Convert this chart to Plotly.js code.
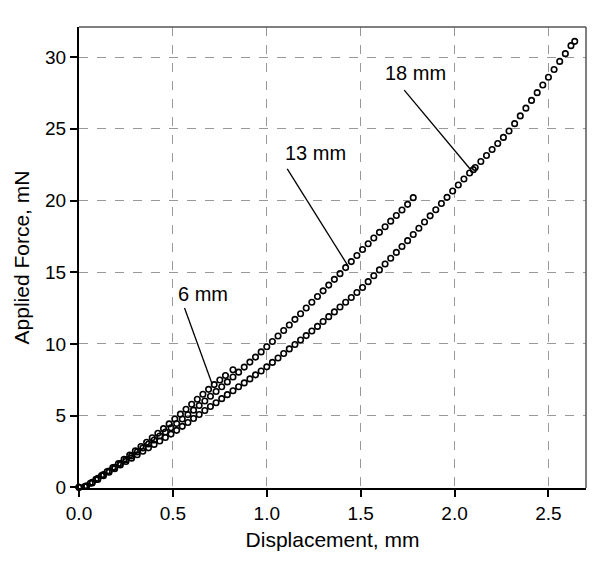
<!DOCTYPE html>
<html>
<head>
<meta charset="utf-8">
<script src="https://cdn.plot.ly/plotly-3.0.1.min.js"></script>
<style>html,body{margin:0;padding:0;background:#fff;}#chart{width:602px;height:566px;}</style>
</head>
<body>
<div id="chart"></div>
<script>
// 6 mm series
var x6 = [0.00,0.03,0.06,0.09,0.12,0.15,0.18,0.21,0.24,0.27,0.30,0.33,0.36,0.39,0.42,0.45,0.48,0.51,0.54,0.57,0.60,0.63,0.66,0.69,0.72,0.75,0.78,0.82];
var y6 = [0.00,0.05,0.28,0.55,0.82,1.10,1.38,1.66,1.95,2.24,2.54,2.84,3.14,3.45,3.77,4.09,4.42,4.76,5.10,5.44,5.79,6.14,6.49,6.83,7.16,7.48,7.80,8.20];
// 13 mm series
var x13 = [0.00,0.04,0.07,0.10,0.13,0.16,0.19,0.22,0.25,0.28,0.31,0.34,0.37,0.40,0.43,0.46,0.49,0.52,0.55,0.58,0.61,0.64,0.67,0.70,0.73,0.76,0.79,0.82,0.85,0.88,0.91,0.94,0.97,1.00,1.03,1.06,1.09,1.12,1.15,1.18,1.21,1.24,1.27,1.30,1.33,1.36,1.39,1.42,1.45,1.48,1.51,1.54,1.57,1.60,1.63,1.66,1.69,1.72,1.75,1.78];
var y13 = [0.00,0.10,0.35,0.62,0.88,1.14,1.40,1.66,1.92,2.19,2.46,2.74,3.02,3.30,3.58,3.86,4.15,4.45,4.76,5.07,5.38,5.70,6.02,6.35,6.68,7.01,7.35,7.69,8.03,8.38,8.73,9.08,9.44,9.80,10.17,10.55,10.93,11.32,11.71,12.10,12.50,12.90,13.30,13.70,14.10,14.50,14.90,15.32,15.74,16.16,16.58,16.98,17.38,17.78,18.17,18.56,18.95,19.34,19.73,20.20];
// 18 mm series
var x18 = [0.00,0.04,0.07,0.10,0.13,0.16,0.19,0.22,0.25,0.28,0.31,0.34,0.37,0.40,0.43,0.46,0.49,0.52,0.55,0.58,0.61,0.64,0.67,0.70,0.73,0.76,0.79,0.82,0.85,0.88,0.91,0.94,0.97,1.00,1.03,1.06,1.09,1.12,1.15,1.18,1.21,1.24,1.27,1.30,1.33,1.36,1.39,1.42,1.45,1.48,1.51,1.54,1.57,1.60,1.63,1.66,1.69,1.72,1.75,1.78,1.81,1.84,1.87,1.90,1.93,1.96,1.99,2.02,2.05,2.08,2.10,2.11,2.14,2.17,2.20,2.23,2.26,2.29,2.32,2.35,2.38,2.41,2.44,2.47,2.50,2.53,2.56,2.59,2.62,2.64];
var y18 = [0.00,0.05,0.30,0.55,0.80,1.05,1.30,1.55,1.80,2.03,2.27,2.51,2.75,2.99,3.23,3.47,3.71,3.97,4.25,4.52,4.80,5.08,5.35,5.63,5.90,6.18,6.46,6.73,7.01,7.28,7.56,7.84,8.11,8.40,8.71,9.02,9.33,9.65,9.96,10.27,10.58,10.90,11.22,11.56,11.90,12.23,12.57,12.90,13.24,13.58,13.93,14.34,14.75,15.16,15.57,15.97,16.38,16.79,17.20,17.63,18.06,18.50,18.93,19.36,19.79,20.22,20.66,21.08,21.50,21.92,22.15,22.30,22.72,23.14,23.56,23.98,24.40,24.85,25.36,25.90,26.44,26.98,27.52,28.06,28.60,29.14,29.70,30.24,30.80,31.10];

// labels and their leader lines (text position, line start, line end)
var labels = ["6 mm","13 mm","18 mm"];
var labelX = [0.66, 1.26, 1.79];
var labelY = [13.5, 23.3, 28.9];
var lineX0 = [0.562, 1.109, 1.732];
var lineY0 = [12.5, 22.2, 27.7];
var lineX1 = [0.710, 1.430, 2.083];
var lineY1 = [7.17, 15.5, 22.2];

var xTicks = [0,0.5,1,1.5,2,2.5];
var xTickText = ["0.0","0.5","1.0","1.5","2.0","2.5"];
var yTicks = [0,5,10,15,20,25,30];

var font = "Liberation Sans, Arial, Helvetica, sans-serif";
var mk = {symbol:"circle-open", size:5.5, color:"#000", line:{color:"#000", width:1.6}};
var traces = [
  {x:x6, y:y6, mode:"markers", marker:mk, cliponaxis:false, name:"6 mm"},
  {x:x13, y:y13, mode:"markers", marker:mk, cliponaxis:false, name:"13 mm"},
  {x:x18, y:y18, mode:"markers", marker:mk, cliponaxis:false, name:"18 mm"}
];

var shapes = [
  {type:"line", xref:"paper", yref:"paper", x0:0, x1:1, y0:1, y1:1, line:{color:"#555", width:1.5}},
  {type:"line", xref:"paper", yref:"paper", x0:1, x1:1, y0:0, y1:1, line:{color:"#555", width:1.5}}
];
var annotations = [];
for (var i=0;i<labels.length;i++){
  shapes.push({type:"line", xref:"x", yref:"y", x0:lineX0[i], y0:lineY0[i], x1:lineX1[i], y1:lineY1[i], line:{color:"#000", width:1.3}});
  annotations.push({x:labelX[i], y:labelY[i], xref:"x", yref:"y", text:labels[i], showarrow:false, font:{family:font, size:20, color:"#000"}});
}

var layout = {
  width:602, height:566,
  margin:{l:79, r:16, t:27, b:78},
  paper_bgcolor:"#fff", plot_bgcolor:"#fff",
  showlegend:false,
  font:{family:font, color:"#000"},
  xaxis:{range:[0,2.70], tickvals:xTicks, ticktext:xTickText, ticks:"outside", ticklen:7, tickwidth:2, tickcolor:"#000",
         showline:true, linecolor:"#000", linewidth:2, showgrid:true, gridcolor:"#999", griddash:"dash", gridwidth:1,
         zeroline:false, tickfont:{family:font, size:19, color:"#000"},
         title:{text:"Displacement, mm", font:{family:font, size:21, color:"#000"}, standoff:10}},
  yaxis:{range:[-0.05,32.1], tickvals:yTicks, ticks:"outside", ticklen:7, tickwidth:2, tickcolor:"#000",
         showline:true, linecolor:"#000", linewidth:2, showgrid:true, gridcolor:"#999", griddash:"dash", gridwidth:1,
         zeroline:false, tickfont:{family:font, size:19, color:"#000"},
         title:{text:"Applied Force, mN", font:{family:font, size:21, color:"#000"}, standoff:10}},
  shapes:shapes,
  annotations:annotations
};
Plotly.newPlot("chart", traces, layout, {displayModeBar:false, staticPlot:true});
</script>
</body>
</html>
